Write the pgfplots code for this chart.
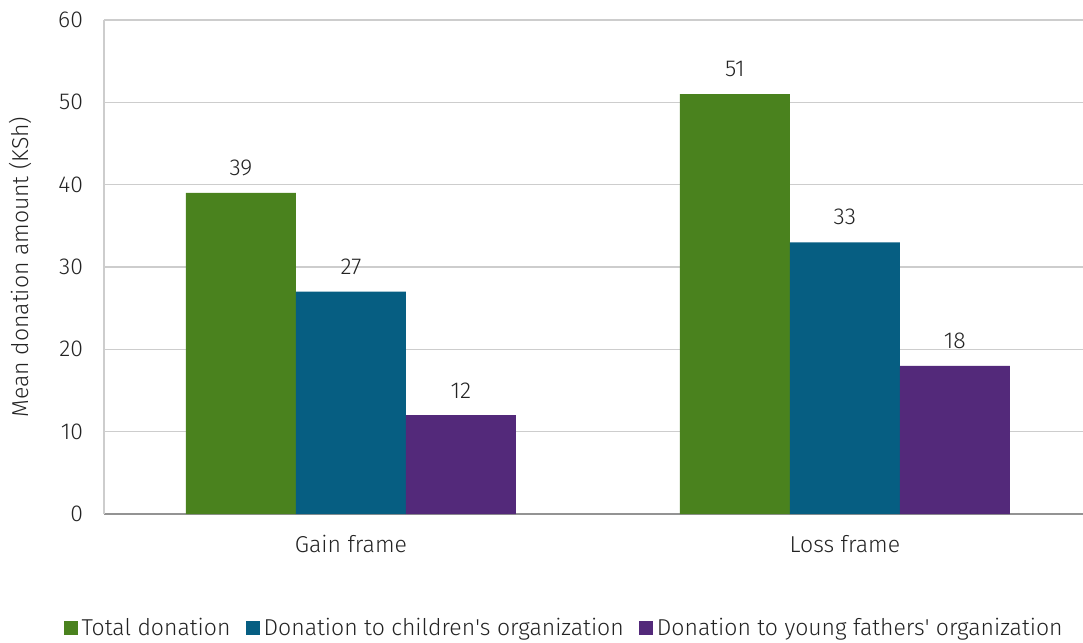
\documentclass[border=0pt]{standalone}
\usepackage{fontspec}
\setmainfont{Fira Sans}[UprightFont={* Light}]
\usepackage{pgfplots}
\pgfplotsset{compat=1.18}
\definecolor{cgreen}{RGB}{74,130,30}
\definecolor{cblue}{RGB}{6,94,130}
\definecolor{cpurple}{RGB}{83,41,122}
\definecolor{gridc}{RGB}{205,205,205}
\definecolor{txt}{RGB}{35,35,35}
\begin{document}
\begin{tikzpicture}
\begin{axis}[
 scale only axis, width=489.5pt, height=247pt,
 ybar=0pt, bar width=0.2227,
 xmin=-0.5, xmax=1.482, ymin=0, ymax=60,
 xtick={0,1}, xticklabels={Gain frame, Loss frame},
 ytick={0,10,...,60},
 major tick length=0pt,
 ymajorgrids, grid style={gridc, line width=0.6pt},
 axis x line*=bottom, axis y line*=left,
 x axis line style={draw=gray!85, line width=0.7pt},
 y axis line style={draw=gridc, line width=0.6pt},
 /pgf/number format/assume math mode=true,
 tick label style={font=\fontsize{11.5}{13}\selectfont, text=txt},
 yticklabel style={xshift=-7pt},
 xticklabel style={yshift=-7pt},
 ylabel={Mean donation amount (KSh)},
 ylabel style={at={(axis description cs:-0.0858,0.5)}, anchor=center, font=\fontsize{11.5}{13}\selectfont, text=txt},
 nodes near coords,
 every node near coord/.append style={font=\fontsize{11.5}{13}\selectfont, text=txt, yshift=5pt},
 legend image code/.code={\fill[#1] (0pt,-3.5pt) rectangle (7pt,3.5pt);},
 legend style={at={(axis description cs:0.471,-0.2308)}, anchor=center, draw=none, legend columns=-1,
   font=\fontsize{11.5}{13}\selectfont, text=txt, nodes={inner sep=1.8pt},
   /tikz/every even column/.append style={column sep=6pt}},
]
\addplot[fill=cgreen, draw=none] coordinates {(0,39) (1,51)};
\addplot[fill=cblue, draw=none] coordinates {(0,27) (1,33)};
\addplot[fill=cpurple, draw=none] coordinates {(0,12) (1,18)};
\legend{Total donation, Donation to children\textquotesingle s organization, Donation to young fathers\textquotesingle\ organization}
\end{axis}
\pgfresetboundingbox
\path[use as bounding box] (-52pt,-64.5pt) rectangle (489.5pt,257pt);
\end{tikzpicture}
\end{document}
